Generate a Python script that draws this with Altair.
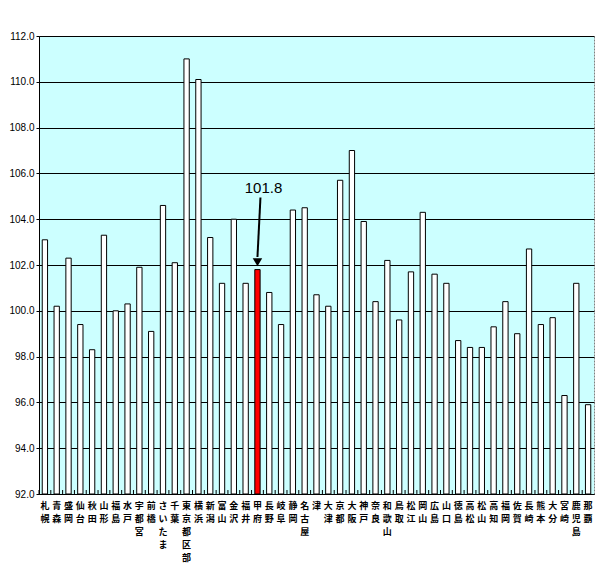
import altair as alt
import pandas as pd

cities = ["札幌","青森","盛岡","仙台","秋田","山形","福島","水戸","宇都宮","前橋",
          "さいたま","千葉","東京都区部","横浜","新潟","富山","金沢","福井","甲府","長野",
          "岐阜","静岡","名古屋","津","大津","京都","大阪","神戸","奈良","和歌山",
          "鳥取","松江","岡山","広島","山口","徳島","高松","松山","高知","福岡",
          "佐賀","長崎","熊本","大分","宮崎","鹿児島","那覇"]
values = [103.1,100.2,102.3,99.4,98.3,103.3,100.0,100.3,101.9,99.1,
          104.6,102.1,111.0,110.1,103.2,101.2,104.0,101.2,101.8,100.8,
          99.4,104.4,104.5,100.7,100.2,105.7,107.0,103.9,100.4,102.2,
          99.6,101.7,104.3,101.6,101.2,98.7,98.4,98.4,99.3,100.4,
          99.0,102.7,99.4,99.7,96.3,101.2,95.9]
y_ticks = [92, 94, 96, 98, 100, 102, 104, 106, 108, 110, 112]

highlight_city = "甲府"
highlight_label = "101.8"
# annotation (data units)
label_y = 105.35
arrow_top = 104.95
arrow_bottom = 102.35
arrow_tip = 102.12

W, H = 555, 458
step = W / len(cities)

df = pd.DataFrame({"city": cities, "value": values})
ann = pd.DataFrame({"city": [highlight_city], "label": [highlight_label],
                    "ly": [label_y], "a1": [arrow_top], "a2": [arrow_bottom], "tip": [arrow_tip]})

xscale = alt.Scale(paddingInner=0.55, paddingOuter=0.275)
yscale = alt.Scale(domain=[92, 112], zero=False, nice=False)

bars = alt.Chart(df).mark_bar(stroke="black", strokeWidth=1).encode(
    x=alt.X("city:N", sort=None, scale=xscale, title=None,
            axis=alt.Axis(labelExpr="split(datum.label, '')", labelAngle=0,
                          labelOverlap=False, labelLimit=0, ticks=False,
                          labelFont="Noto Sans CJK JP", labelFontWeight="bold",
                          labelFontSize=9, labelLineHeight=13, labelBaseline="top",
                          labelPadding=7, labelColor="black",
                          domainColor="black", domainWidth=1, grid=False)),
    y=alt.Y("value:Q", scale=yscale, title=None,
            axis=alt.Axis(values=y_ticks, format=".1f", grid=True, gridColor="black",
                          gridWidth=1, gridOpacity=1, tickSize=3, tickColor="black",
                          labelPadding=2, labelFont="Liberation Sans", labelFontSize=10,
                          labelColor="black", domainColor="black", domainWidth=1)),
    y2=alt.datum(92),
    fill=alt.condition(alt.datum.city == highlight_city, alt.value("#FF0000"), alt.value("white")),
)

ticks = alt.Chart(df).mark_rule(color="black", strokeWidth=1, xOffset=-step / 2).encode(
    x=alt.X("city:N", sort=None, scale=xscale, title=None),
    y=alt.value(H - 4),
    y2=alt.value(H),
)

label = alt.Chart(ann).mark_text(fontSize=15, font="Liberation Sans", color="black",
                                 dx=6, baseline="middle").encode(
    x=alt.X("city:N", sort=None, scale=xscale, title=None),
    y=alt.Y("ly:Q", scale=yscale, title=None),
    text="label:N",
)

arrow = alt.Chart(ann).mark_rule(color="black", strokeWidth=2, xOffset=3, x2Offset=0).encode(
    x=alt.X("city:N", sort=None, scale=xscale, title=None),
    x2="city:N",
    y=alt.Y("a1:Q", scale=yscale, title=None),
    y2="a2:Q",
)

head = alt.Chart(ann).mark_point(shape="triangle-down", filled=True, color="black",
                                 size=90, opacity=1).encode(
    x=alt.X("city:N", sort=None, scale=xscale, title=None),
    y=alt.Y("tip:Q", scale=yscale, title=None),
)

chart = alt.layer(bars, ticks, arrow, head, label).properties(
    width=W, height=H,
    autosize=alt.AutoSizeParams(type="none"),
    padding={"left": 31, "top": 28, "right": 7, "bottom": 76},
    background="white",
).configure_view(
    fill="#CCFFFF", stroke="#808080", strokeDash=[2, 1], strokeWidth=1
)

chart.save("out.html", embed_options={"renderer": "svg", "actions": False})
